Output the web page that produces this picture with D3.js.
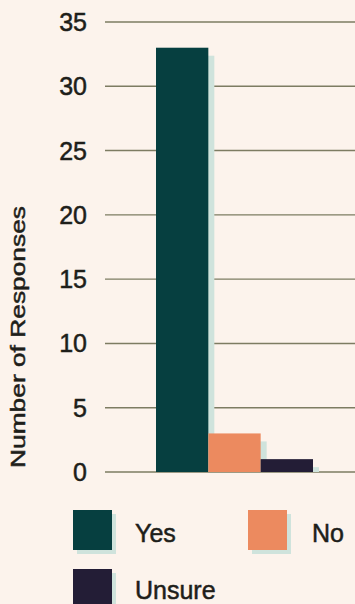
<!DOCTYPE html>
<html>
<head>
<meta charset="utf-8">
<script src="https://cdn.jsdelivr.net/npm/d3@7"></script>
<style>
  html, body { margin: 0; padding: 0; background: #fcf3ec; }
  svg { display: block; }
  text { font-family: "Liberation Sans", Arial, sans-serif; fill: #1e1e1a; stroke: #1e1e1a; stroke-width: 0.5px; }
</style>
</head>
<body>
<div id="chart"></div>
<script>
// Survey answers
const categories = ["Yes", "No", "Unsure"];
const responses = [33, 3, 1];
const colors = ["#063f40", "#ec8a5f", "#231d36"];
const yTicks = [0, 5, 10, 15, 20, 25, 30, 35];

const width = 355, height = 604;
const svg = d3.select("#chart").append("svg")
  .attr("width", width).attr("height", height);

svg.append("rect").attr("width", width).attr("height", height).attr("fill", "#fcf3ec");

const y = d3.scaleLinear().domain([0, 35]).range([472, 22]);
const x = d3.scaleBand().domain(categories).range([156, 313]).paddingInner(0).paddingOuter(0);

// Gridlines
svg.append("g").selectAll("line").data(yTicks).join("line")
  .attr("x1", 105).attr("x2", width)
  .attr("y1", d => y(d)).attr("y2", d => y(d))
  .attr("stroke", "#7d7c62").attr("stroke-width", 1.4);

// Tick labels
svg.append("g").selectAll("text").data(yTicks).join("text")
  .attr("x", 87).attr("y", d => y(d)).attr("dy", "0.36em")
  .attr("text-anchor", "end").attr("font-size", 25)
  .text(d => d);

// Axis title
svg.append("text")
  .attr("transform", "translate(25,337) rotate(-90)")
  .attr("text-anchor", "middle").attr("font-size", 21)
  .attr("textLength", 262).attr("lengthAdjust", "spacingAndGlyphs")
  .text("Number of Responses");

// Bar shadows
svg.append("g").selectAll("rect").data(responses).join("rect")
  .attr("x", (d, i) => x(categories[i]) + 6)
  .attr("y", d => y(d) + 8)
  .attr("width", x.bandwidth())
  .attr("height", d => y(0) - y(d) - 8)
  .attr("fill", "#cfe3dc");

// Bars
svg.append("g").selectAll("rect").data(responses).join("rect")
  .attr("x", (d, i) => x(categories[i]))
  .attr("y", d => y(d))
  .attr("width", x.bandwidth())
  .attr("height", d => y(0) - y(d))
  .attr("fill", (d, i) => colors[i]);

// Legend
const legendPos = [[73, 510], [248, 510], [73, 569]];
const legend = svg.append("g").selectAll("g").data(categories).join("g")
  .attr("transform", (d, i) => `translate(${legendPos[i][0]},${legendPos[i][1]})`);
legend.append("rect").attr("x", 4).attr("y", 4).attr("width", 39).attr("height", 40).attr("fill", "#cfe3dc");
legend.append("rect").attr("width", 39).attr("height", 40).attr("fill", (d, i) => colors[i]);
legend.append("text").attr("x", (d, i) => i === 1 ? 64 : 62).attr("y", (d, i) => i === 2 ? 30 : 32)
  .attr("font-size", 25).text(d => d);
</script>
</body>
</html>
